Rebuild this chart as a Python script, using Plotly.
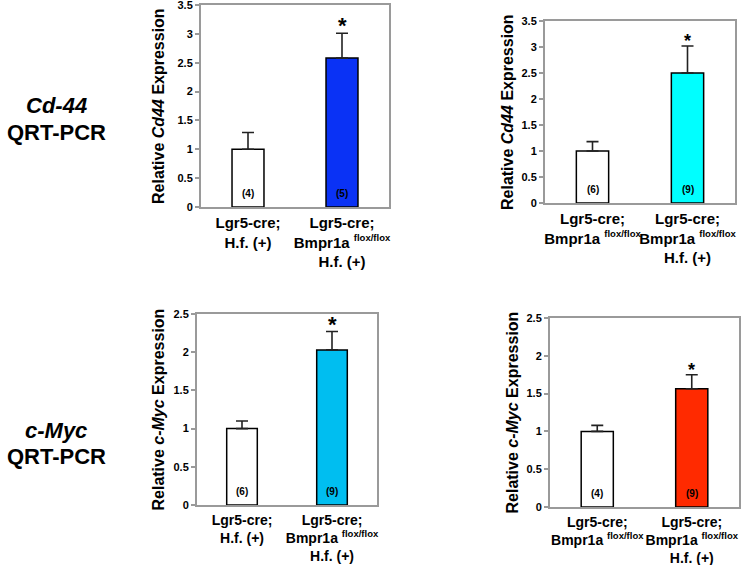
import plotly.graph_objects as go

# ---------------- data ----------------
SUP = '<sup><span style="font-size:9.5px">flox/flox</span></sup>'
labels_hf = ["Lgr5-cre;<br>H.f. (+)",
             "Lgr5-cre;<br>Bmpr1a " + SUP + "<br>H.f. (+)"]
labels_bmpr = ["Lgr5-cre;<br>Bmpr1a " + SUP,
               "Lgr5-cre;<br>Bmpr1a " + SUP + "<br>H.f. (+)"]

cd44_hf_values = [1.0, 2.58]
cd44_hf_err = [0.29, 0.43]
cd44_hf_n = ["(4)", "(5)"]

cd44_bmpr_values = [1.0, 2.50]
cd44_bmpr_err = [0.18, 0.52]
cd44_bmpr_n = ["(6)", "(9)"]

myc_hf_values = [1.0, 2.03]
myc_hf_err = [0.10, 0.24]
myc_hf_n = ["(6)", "(9)"]

myc_bmpr_values = [1.0, 1.565]
myc_bmpr_err = [0.08, 0.185]
myc_bmpr_n = ["(4)", "(9)"]

W, H = 750, 565
FONT = "Arial, Liberation Sans, sans-serif"
GRAY = "#9a9a9a"

def px_x(a, b):
    return [a / W, b / W]

def px_y(top, bottom):
    return [1 - bottom / H, 1 - top / H]

panels = [
    dict(labels=labels_hf, vals=cd44_hf_values, err=cd44_hf_err, n=cd44_hf_n,
         color="#0A32F5", ymax=3.5, dtick=0.5, xd=px_x(201, 389), yd=px_y(5, 207),
         title="Relative <i>Cd44</i> Expression", tx=158, star=22, xfs=15),
    dict(labels=labels_bmpr, vals=cd44_bmpr_values, err=cd44_bmpr_err, n=cd44_bmpr_n,
         color="#00FFFF", ymax=3.5, dtick=0.5, xd=px_x(545, 735), yd=px_y(21, 203),
         title="Relative <i>Cd44</i> Expression", tx=507, star=18, xfs=15),
    dict(labels=labels_hf, vals=myc_hf_values, err=myc_hf_err, n=myc_hf_n,
         color="#00BEF0", ymax=2.5, dtick=0.5, xd=px_x(197, 377), yd=px_y(314, 505),
         title="Relative <i>c-Myc</i> Expression", tx=158, star=22, xfs=14),
    dict(labels=labels_bmpr, vals=myc_bmpr_values, err=myc_bmpr_err, n=myc_bmpr_n,
         color="#FF2A00", ymax=2.5, dtick=0.5, xd=px_x(550, 739), yd=px_y(318, 507),
         title="Relative <i>c-Myc</i> Expression", tx=512, star=18, xfs=14),
]

fig = go.Figure()
annotations = []
layout = {}

for i, p in enumerate(panels):
    k = "" if i == 0 else str(i + 1)
    xa, ya = "x" + k, "y" + k
    fig.add_trace(go.Bar(
        x=[0, 1], y=p["vals"], width=0.34,
        marker=dict(color=["white", p["color"]], line=dict(color="black", width=1.5)),
        error_y=dict(type="data", array=p["err"], arrayminus=[0, 0], symmetric=False,
                     color="#222222", thickness=1.6, width=6),
        xaxis=xa, yaxis=ya, showlegend=False, hoverinfo="skip",
    ))
    layout["xaxis" + k] = dict(
        domain=p["xd"], anchor=ya, range=[-0.5, 1.5],
        tickmode="array", tickvals=[0, 1], ticktext=p["labels"], tickangle=0,
        tickfont=dict(family=FONT, size=p["xfs"], color="black", weight="bold"),
        ticklabelstandoff=1, ticklabeloverflow="allow",
        showline=True, linecolor=GRAY, linewidth=2, mirror=True,
        ticks="", showgrid=False, zeroline=False, fixedrange=True, automargin=False,
    )
    layout["yaxis" + k] = dict(
        domain=p["yd"], anchor=xa, range=[0, p["ymax"]], dtick=p["dtick"],
        tickfont=dict(family=FONT, size=11, color="black", weight="bold"),
        ticklabeloverflow="allow",
        showline=True, linecolor=GRAY, linewidth=2, mirror=True,
        ticks="outside", ticklen=4, tickcolor=GRAY, tickwidth=1.5,
        showgrid=False, zeroline=False, fixedrange=True, automargin=False,
    )
    # axis title
    annotations.append(dict(
        text="<b>" + p["title"] + "</b>", xref="paper", yref="paper",
        x=p["tx"] / W, y=(p["yd"][0] + p["yd"][1]) / 2, showarrow=False,
        textangle=-90, font=dict(family=FONT, size=16, color="black"),
        xanchor="center", yanchor="middle",
    ))
    # counts inside bars
    for j in range(2):
        annotations.append(dict(
            text="<b>" + p["n"][j] + "</b>", xref=xa, yref=ya, x=j, y=0,
            yshift=14, showarrow=False, font=dict(family=FONT, size=10, color="black"),
            xanchor="center", yanchor="middle",
        ))
    # significance star
    annotations.append(dict(
        text="<b>*</b>", xref=xa, yref=ya, x=1, y=p["vals"][1] + p["err"][1],
        showarrow=False, font=dict(family=FONT, size=p["star"], color="black"),
        xanchor="center", yanchor="bottom", yshift=-7,
    ))

# row labels
for txt, y in [("<b><i>Cd-44</i></b>", 105), ("<b>QRT-PCR</b>", 132),
               ("<b><i>c-Myc</i></b>", 430), ("<b>QRT-PCR</b>", 457)]:
    annotations.append(dict(
        text=txt, xref="paper", yref="paper", x=56 / W, y=1 - y / H,
        showarrow=False, font=dict(family=FONT, size=22, color="black"),
        xanchor="center", yanchor="middle",
    ))

fig.update_layout(
    width=W, height=H, margin=dict(l=0, r=0, t=0, b=0, autoexpand=False),
    paper_bgcolor="white", plot_bgcolor="white",
    annotations=annotations, **layout,
)

fig.write_html("out.html", config={"displayModeBar": False},
               post_script="document.body.style.margin='0';document.body.style.overflow='hidden';")
